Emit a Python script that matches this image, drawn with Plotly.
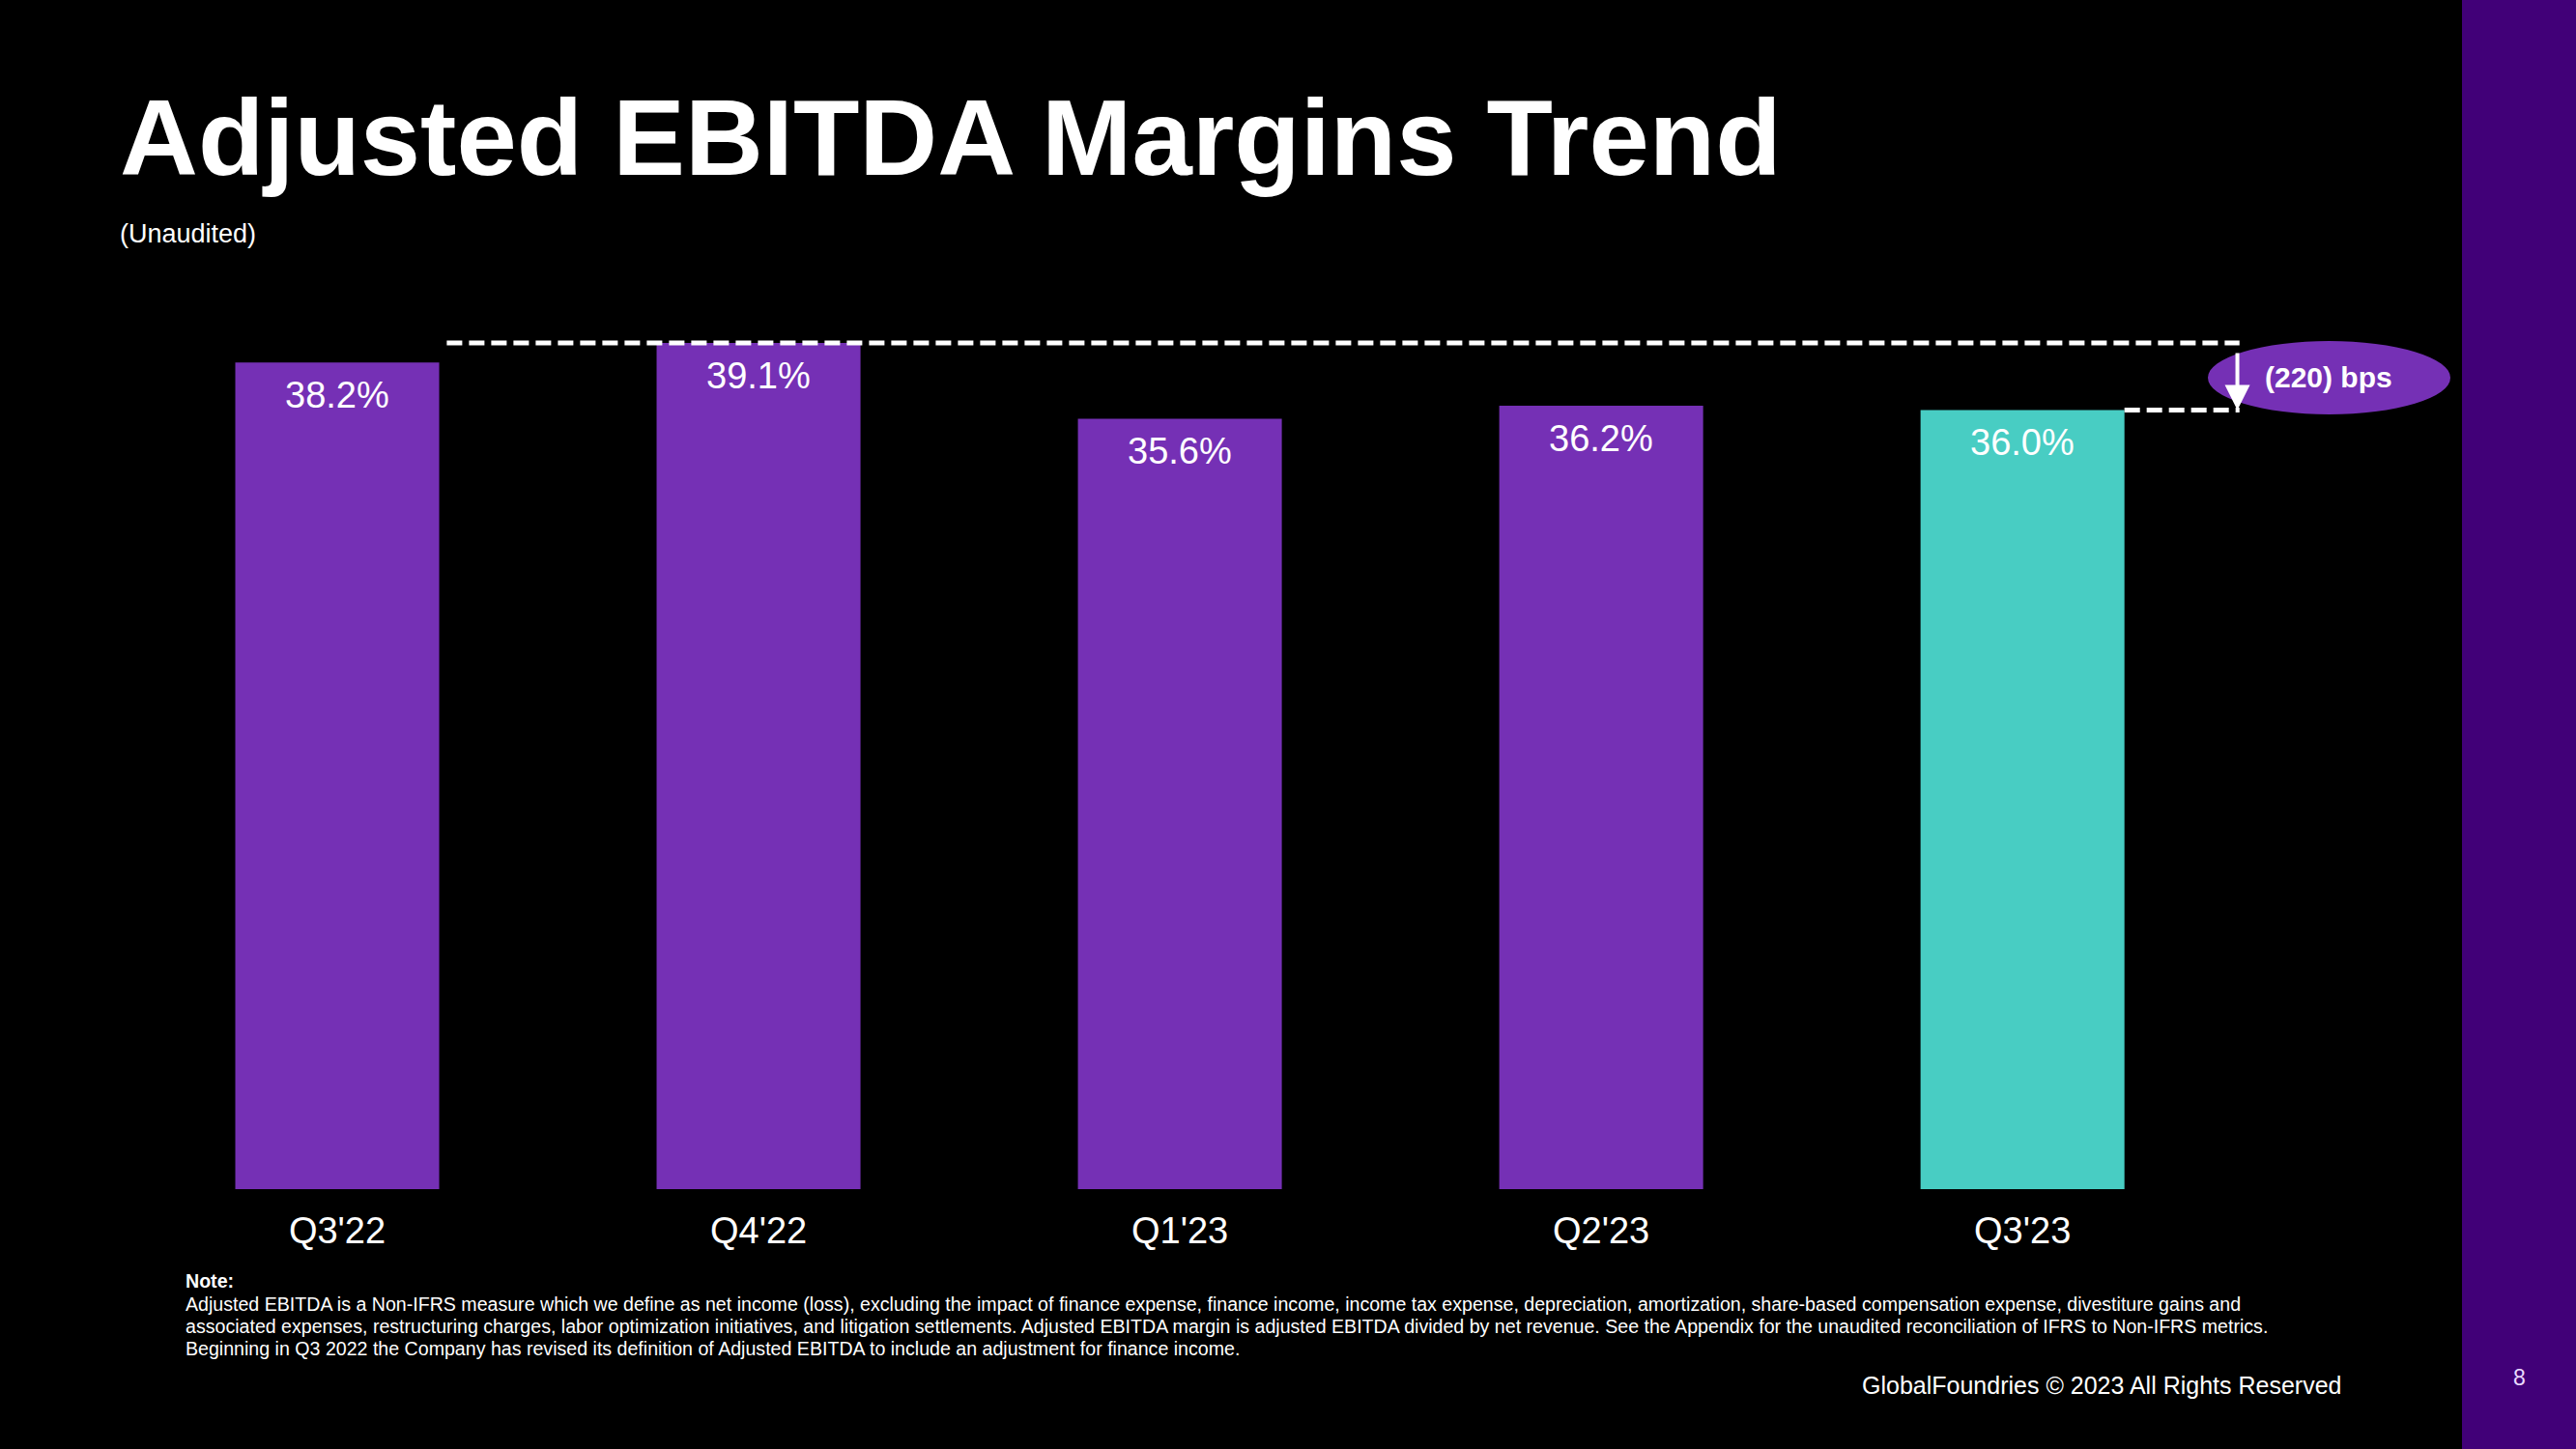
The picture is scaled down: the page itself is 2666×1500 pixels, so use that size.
import plotly.graph_objects as go

# ---- data ----
quarters = ["Q3'22", "Q4'22", "Q1'23", "Q2'23", "Q3'23"]
margins = [38.2, 39.1, 35.6, 36.2, 36.0]
labels = ["38.2%", "39.1%", "35.6%", "36.2%", "36.0%"]
bar_colors = ["#7530b5", "#7530b5", "#7530b5", "#7530b5", "#48cdc3"]
peak_value = 39.1
latest_value = 36.0
change_label = "(220) bps"

title_text = "Adjusted EBITDA Margins Trend"
subtitle_text = "(Unaudited)"
note_lines = [
    "<b>Note:</b>",
    "Adjusted EBITDA is a Non-IFRS measure which we define as net income (loss), excluding the impact of finance expense, "
    "finance income, income tax expense, depreciation, amortization, share-based compensation expense, divestiture gains and",
    "associated expenses, restructuring charges, labor optimization initiatives, and litigation settlements. Adjusted EBITDA margin "
    "is adjusted EBITDA divided by net revenue. See the Appendix for the unaudited reconciliation of IFRS to Non-IFRS metrics.",
    "Beginning in Q3 2022 the Company has revised its definition of Adjusted EBITDA to include an adjustment for finance income.",
]
footer_text = "GlobalFoundries © 2023 All Rights Reserved"
page_number = "8"

# ---- layout geometry ----
W, H = 2666, 1500
L, R, T, B = 131, 115, 290, 269
FONT = "Liberation Sans, Arial, sans-serif"


def px_x(p):
    return (p - L) / (W - L - R)


def px_y(p):
    return (H - B - p) / (H - T - B)


fig = go.Figure()
fig.add_trace(go.Bar(
    x=list(range(len(quarters))),
    y=margins,
    marker=dict(color=bar_colors, line=dict(width=0)),
    hoverinfo="skip",
    showlegend=False,
))

annotations = []
for i, (v, lab) in enumerate(zip(margins, labels)):
    annotations.append(dict(
        x=i, y=v, xref="x", yref="y", text=lab, showarrow=False,
        yanchor="middle", xanchor="center", yshift=-34,
        font=dict(family=FONT, size=38, color="white"),
    ))

# title / subtitle
annotations.append(dict(
    x=px_x(122), y=px_y(142), xref="paper", yref="paper", text="<b>" + title_text + "</b>",
    showarrow=False, xanchor="left", yanchor="middle",
    font=dict(family=FONT, size=112, color="white"),
))
annotations.append(dict(
    x=px_x(122), y=px_y(242), xref="paper", yref="paper", text=subtitle_text,
    showarrow=False, xanchor="left", yanchor="middle",
    font=dict(family=FONT, size=27, color="white"),
))
# note (one annotation per line for tight line spacing)
note_positions = [1326, 1350, 1373, 1396]
for line, yy in zip(note_lines, note_positions):
    annotations.append(dict(
        x=px_x(190), y=px_y(yy), xref="paper", yref="paper", text=line,
        showarrow=False, xanchor="left", yanchor="middle", align="left",
        font=dict(family=FONT, size=19.6, color="white"),
    ))
# footer
annotations.append(dict(
    x=px_x(2425), y=px_y(1434), xref="paper", yref="paper", text=footer_text,
    showarrow=False, xanchor="right", yanchor="middle",
    font=dict(family=FONT, size=25, color="white"),
))
annotations.append(dict(
    x=px_x(2607), y=px_y(1426), xref="paper", yref="paper", text=page_number,
    showarrow=False, xanchor="center", yanchor="middle",
    font=dict(family=FONT, size=23, color="#ead9ff"),
))
# change callout text
annotations.append(dict(
    x=px_x(2410), y=px_y(391), xref="paper", yref="paper", text="<b>" + change_label + "</b>",
    showarrow=False, xanchor="center", yanchor="middle",
    font=dict(family=FONT, size=30, color="white"),
))
# arrow
annotations.append(dict(
    x=4.51, y=latest_value, xref="x", yref="y",
    ax=4.51, ay=peak_value - 0.4, axref="x", ayref="y",
    showarrow=True, arrowhead=2, arrowsize=1.3, arrowwidth=4, arrowcolor="white", text="",
))

shapes = [
    # right purple strip
    dict(type="rect", xref="paper", yref="paper", x0=px_x(2548), x1=px_x(W + 5), y0=px_y(-5), y1=px_y(H + 5),
         fillcolor="#410078", line=dict(width=0), layer="below"),
    # callout ellipse
    dict(type="circle", xref="paper", yref="paper", x0=px_x(2285), x1=px_x(2536), y0=px_y(429), y1=px_y(353),
         fillcolor="#7530b5", line=dict(width=0), layer="below"),
    # peak dashed line
    dict(type="line", xref="x", yref="y", x0=0.26, x1=4.515, y0=peak_value, y1=peak_value,
         line=dict(color="white", width=5, dash="16px,7px")),
    # latest dashed line
    dict(type="line", xref="x", yref="y", x0=4.242, x1=4.515, y0=latest_value, y1=latest_value,
         line=dict(color="white", width=5, dash="16px,7px")),
]

fig.update_layout(
    width=W, height=H,
    margin=dict(l=L, r=R, t=T, b=B, pad=0),
    paper_bgcolor="black", plot_bgcolor="rgba(0,0,0,0)",
    bargap=0.516,
    annotations=annotations,
    shapes=shapes,
    showlegend=False,
    hovermode=False,
    xaxis=dict(
        range=[-0.5, 5.05], tickmode="array", tickvals=list(range(len(quarters))), ticktext=quarters,
        showgrid=False, zeroline=False, showline=False, ticks="",
        tickfont=dict(family=FONT, size=38, color="white"), ticklabelstandoff=17,
    ),
    yaxis=dict(range=[0, 42], visible=False, showgrid=False, zeroline=False),
    font=dict(family=FONT, color="white"),
)

fig.write_html(
    "out.html",
    config={"displayModeBar": False},
    post_script="document.body.style.margin='0px';document.body.style.background='black';"
                "document.documentElement.style.overflow='hidden';",
)
